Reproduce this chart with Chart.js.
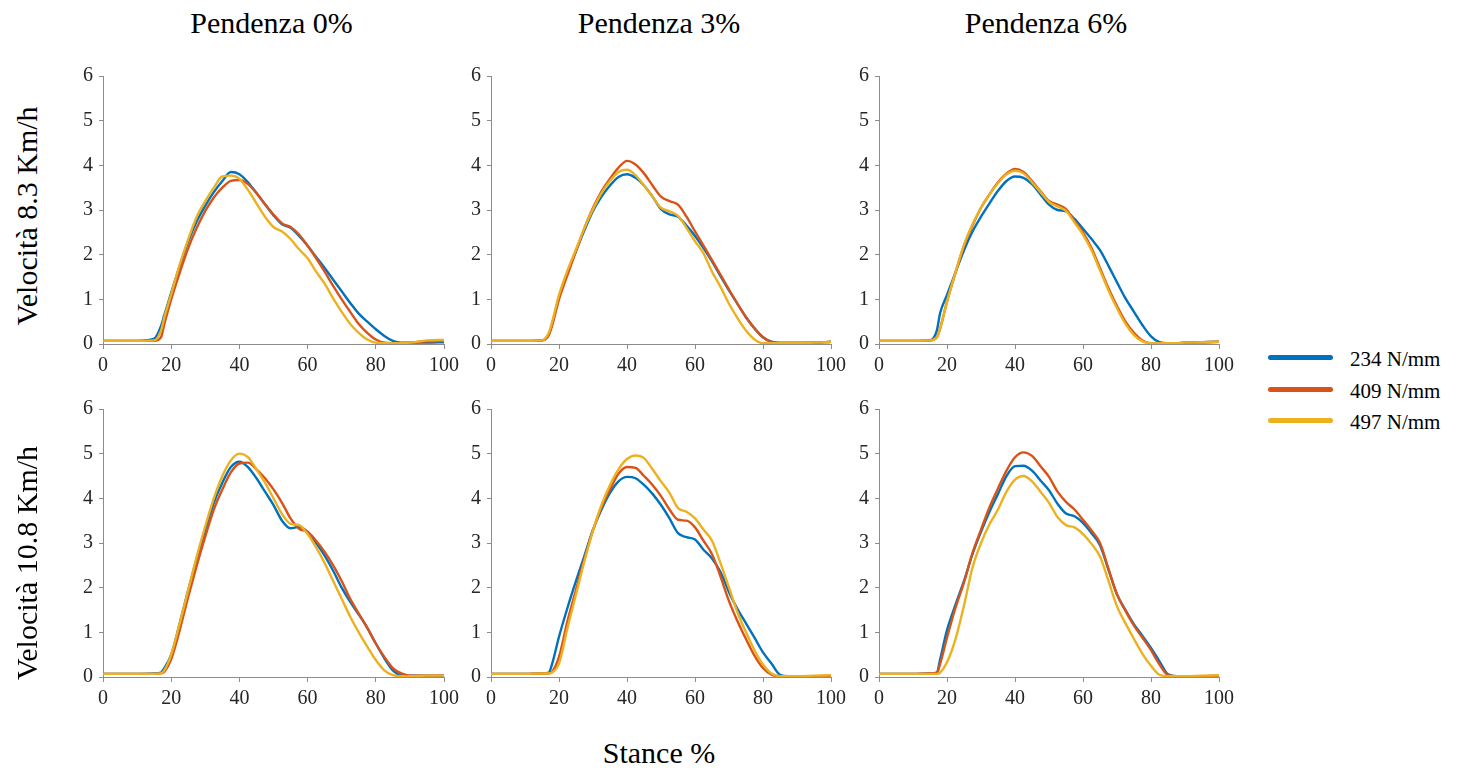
<!DOCTYPE html>
<html><head><meta charset="utf-8">
<script src="https://cdn.jsdelivr.net/npm/chart.js@4/dist/chart.umd.min.js"></script>
<style>
html,body{margin:0;padding:0;background:#fff;}
body{width:1462px;height:773px;position:relative;overflow:hidden;font-family:"Liberation Serif","Times New Roman",serif;color:#000;}
.cv{position:absolute;}
.title{position:absolute;font-size:30px;line-height:30px;white-space:nowrap;transform:translateX(-50%);}
.rowlab{position:absolute;font-size:30px;line-height:30px;white-space:nowrap;transform:translate(-50%,-50%) rotate(-90deg);}
.leg{position:absolute;font-size:21px;line-height:24px;white-space:nowrap;}
.legline{position:absolute;height:5px;border-radius:3px;}
</style>
</head><body>
<script>
// ---- data ----
const stance = [0,10,15,17,18,20,22.5,25,27.5,30,32.5,35,37.5,40,42.5,45,47.5,50,52.5,55,57.5,60,62.5,65,67.5,70,72.5,75,77.5,80,82.5,85,87.5,90,95,100];

const xTickValues = [0,20,40,60,80,100];
const yTickValues = [0,1,2,3,4,5,6];
const seriesNames = ["234 N/mm","409 N/mm","497 N/mm"];
const seriesColors = ["#0072BD","#D95319","#EDB120"];
const slopeTitles = ["Pendenza 0%","Pendenza 3%","Pendenza 6%"];
const speedLabels = ["Velocità 8.3 Km/h","Velocità 10.8 Km/h"];
const xAxisTitle = "Stance %";

// Velocità 8.3, Pendenza 0%
const v83_p0_234 = [0.07,0.07,0.12,0.4,0.65,1.15,1.75,2.3,2.75,3.1,3.4,3.65,3.85,3.8,3.62,3.38,3.13,2.88,2.68,2.6,2.42,2.2,1.95,1.7,1.44,1.18,0.92,0.68,0.5,0.33,0.18,0.07,0.03,0.03,0.03,0.04];
const v83_p0_409 = [0.07,0.07,0.07,0.15,0.45,1.0,1.6,2.15,2.6,2.98,3.28,3.5,3.65,3.67,3.58,3.38,3.13,2.9,2.7,2.62,2.45,2.2,1.92,1.62,1.3,1.0,0.72,0.45,0.25,0.1,0.03,0.02,0.02,0.03,0.06,0.07];
const v83_p0_497 = [0.07,0.07,0.08,0.3,0.6,1.12,1.78,2.35,2.85,3.2,3.5,3.75,3.77,3.7,3.45,3.15,2.85,2.62,2.52,2.35,2.12,1.92,1.62,1.35,1.02,0.72,0.45,0.25,0.1,0.03,0.02,0.02,0.02,0.03,0.08,0.09];
// Velocità 10.8, Pendenza 0%
const v108_p0_234 = [0.07,0.07,0.08,0.1,0.2,0.5,1.2,1.95,2.65,3.3,3.9,4.35,4.7,4.82,4.7,4.45,4.15,3.85,3.5,3.33,3.36,3.25,3.0,2.72,2.38,2.0,1.68,1.4,1.1,0.75,0.42,0.15,0.04,0.03,0.03,0.03];
const v108_p0_409 = [0.07,0.07,0.07,0.08,0.12,0.4,1.05,1.8,2.5,3.15,3.75,4.2,4.58,4.78,4.8,4.65,4.45,4.2,3.9,3.55,3.32,3.25,3.05,2.8,2.5,2.15,1.75,1.42,1.1,0.75,0.45,0.2,0.08,0.03,0.03,0.03];
const v108_p0_497 = [0.07,0.07,0.07,0.08,0.15,0.5,1.2,1.95,2.7,3.38,4.0,4.5,4.85,5.0,4.92,4.65,4.35,4.0,3.65,3.43,3.4,3.2,2.9,2.55,2.15,1.75,1.35,1.0,0.68,0.38,0.15,0.04,0.02,0.02,0.03,0.03];
// Velocità 8.3, Pendenza 3%
const v83_p3_234 = [0.07,0.07,0.08,0.22,0.45,1.05,1.6,2.08,2.55,2.98,3.3,3.55,3.74,3.8,3.72,3.55,3.3,3.02,2.9,2.85,2.65,2.42,2.15,1.85,1.52,1.2,0.9,0.6,0.35,0.15,0.05,0.03,0.03,0.03,0.03,0.05];
const v83_p3_409 = [0.07,0.07,0.08,0.2,0.42,1.0,1.55,2.08,2.6,3.05,3.42,3.7,3.95,4.1,4.02,3.82,3.55,3.3,3.2,3.12,2.85,2.52,2.2,1.88,1.55,1.22,0.9,0.6,0.35,0.15,0.04,0.02,0.02,0.02,0.03,0.05];
const v83_p3_497 = [0.07,0.07,0.08,0.25,0.5,1.1,1.65,2.12,2.6,3.02,3.38,3.65,3.85,3.9,3.78,3.55,3.3,3.05,2.97,2.87,2.6,2.3,2.03,1.62,1.28,0.9,0.58,0.3,0.1,0.02,0.02,0.02,0.02,0.02,0.03,0.05];
// Velocità 10.8, Pendenza 3%
const v108_p3_234 = [0.07,0.07,0.08,0.1,0.3,0.9,1.55,2.15,2.72,3.3,3.75,4.12,4.38,4.48,4.45,4.3,4.1,3.85,3.55,3.22,3.13,3.08,2.85,2.65,2.35,1.9,1.52,1.2,0.88,0.55,0.3,0.05,0.02,0.02,0.02,0.03];
const v108_p3_409 = [0.07,0.07,0.08,0.08,0.12,0.45,1.25,1.95,2.65,3.28,3.8,4.2,4.55,4.7,4.68,4.5,4.3,4.05,3.75,3.52,3.5,3.35,3.05,2.75,2.25,1.7,1.25,0.85,0.48,0.2,0.05,0.02,0.02,0.02,0.02,0.03];
const v108_p3_497 = [0.07,0.07,0.08,0.08,0.1,0.3,1.1,1.85,2.6,3.28,3.85,4.3,4.65,4.88,4.96,4.9,4.65,4.38,4.12,3.78,3.7,3.55,3.3,3.05,2.55,2.0,1.45,1.0,0.6,0.28,0.08,0.02,0.02,0.02,0.03,0.04];
// Velocità 8.3, Pendenza 6%
const v83_p6_234 = [0.07,0.07,0.08,0.3,0.7,1.1,1.6,2.1,2.52,2.85,3.15,3.43,3.65,3.75,3.72,3.58,3.35,3.12,3.0,2.97,2.8,2.58,2.35,2.1,1.75,1.38,1.02,0.72,0.42,0.17,0.04,0.02,0.02,0.03,0.04,0.05];
const v83_p6_409 = [0.07,0.07,0.08,0.15,0.35,0.95,1.6,2.2,2.65,3.05,3.35,3.62,3.82,3.92,3.85,3.65,3.42,3.2,3.12,3.02,2.75,2.5,2.15,1.7,1.25,0.85,0.5,0.25,0.08,0.02,0.02,0.02,0.02,0.03,0.04,0.05];
const v83_p6_497 = [0.07,0.07,0.08,0.15,0.35,0.95,1.6,2.22,2.68,3.05,3.35,3.6,3.8,3.88,3.82,3.62,3.4,3.18,3.08,2.98,2.72,2.45,2.1,1.65,1.2,0.8,0.45,0.2,0.06,0.02,0.02,0.02,0.02,0.03,0.04,0.05];
// Velocità 10.8, Pendenza 6%
const v108_p6_234 = [0.07,0.07,0.08,0.1,0.4,1.05,1.62,2.15,2.75,3.25,3.7,4.1,4.5,4.72,4.73,4.62,4.4,4.18,3.88,3.66,3.6,3.45,3.22,2.95,2.4,1.85,1.5,1.18,0.92,0.65,0.35,0.06,0.02,0.02,0.02,0.03];
const v108_p6_409 = [0.07,0.07,0.08,0.09,0.3,0.88,1.55,2.12,2.78,3.3,3.8,4.22,4.62,4.92,5.03,4.95,4.72,4.48,4.15,3.92,3.75,3.52,3.28,3.0,2.42,1.85,1.48,1.15,0.88,0.6,0.28,0.04,0.02,0.02,0.02,0.03];
const v108_p6_497 = [0.07,0.07,0.07,0.07,0.1,0.33,0.85,1.6,2.45,3.0,3.42,3.75,4.15,4.42,4.5,4.38,4.15,3.9,3.58,3.4,3.35,3.2,2.98,2.7,2.15,1.58,1.2,0.85,0.52,0.25,0.05,0.02,0.02,0.02,0.03,0.04];

const panelSeries = [
  [[v83_p0_234,v83_p0_409,v83_p0_497],[v83_p3_234,v83_p3_409,v83_p3_497],[v83_p6_234,v83_p6_409,v83_p6_497]],
  [[v108_p0_234,v108_p0_409,v108_p0_497],[v108_p3_234,v108_p3_409,v108_p3_497],[v108_p6_234,v108_p6_409,v108_p6_497]]
];

// ---- layout ----
const plotLeft = [103, 491, 879];
const plotWidth = [341, 340, 340];
const plotTop = [76, 409];
const plotHeight = 268;
const padL = 45, padT = 28, padR = 28, padB = 40;

const FONT = "'Liberation Serif','Times New Roman',serif";
const axisColor = "#8c8c8c";
const tickColor = "#262626";

function addDiv(cls, text, styles){
  const d = document.createElement('div');
  d.className = cls; d.textContent = text;
  Object.assign(d.style, styles);
  document.body.appendChild(d);
  return d;
}

for (let r = 0; r < 2; r++) {
  for (let c = 0; c < 3; c++) {
    const cv = document.createElement('canvas');
    cv.className = 'cv';
    const W = plotWidth[c] + padL + padR, H = plotHeight + padT + padB;
    cv.width = W; cv.height = H;
    cv.style.width = W + 'px'; cv.style.height = H + 'px';
    cv.style.left = (plotLeft[c] - padL) + 'px';
    cv.style.top = (plotTop[r] - padT) + 'px';
    document.body.appendChild(cv);
    const datasets = panelSeries[r][c].map((vals, i) => ({
      label: seriesNames[i],
      data: stance.map((x, k) => ({x: x, y: vals[k]})),
      borderColor: seriesColors[i],
      backgroundColor: seriesColors[i],
      borderWidth: 2.4,
      pointRadius: 0,
      cubicInterpolationMode: 'monotone',
      fill: false,
      order: 2 - i
    }));
    const ch = new Chart(cv, {
      type: 'line',
      data: { datasets },
      options: {
        responsive: false, animation: false, devicePixelRatio: 1,
        layout: { padding: { left: 0, top: padT, right: padR, bottom: 0 } },
        plugins: { legend: { display: false }, tooltip: { enabled: false } },
        scales: {
          x: {
            type: 'linear', min: 0, max: 100,
            afterBuildTicks: s => { s.ticks = xTickValues.map(v => ({value: v})); },
            afterFit: s => { s.height = padB; },
            border: { display: true, color: axisColor, width: 1 },
            grid: { display: true, drawOnChartArea: false, drawTicks: true, tickLength: 5, color: axisColor },
            ticks: { color: tickColor, font: { family: FONT, size: 20 }, padding: 5, maxRotation: 0 }
          },
          y: {
            type: 'linear', min: 0, max: 6,
            afterBuildTicks: s => { s.ticks = yTickValues.map(v => ({value: v})); },
            afterFit: s => { s.width = padL; },
            border: { display: true, color: axisColor, width: 1 },
            grid: { display: true, drawOnChartArea: false, drawTicks: true, tickLength: 4, color: axisColor },
            ticks: { color: tickColor, font: { family: FONT, size: 20 }, padding: 6 }
          }
        }
      }
    });
    // align the plot area exactly to the target rectangle
    const ca = ch.chartArea;
    cv.style.left = (plotLeft[c] - ca.left) + 'px';
    cv.style.top = (plotTop[r] - ca.top) + 'px';
  }
}

// titles
const titleCenters = [271.5, 659, 1046];
slopeTitles.forEach((t, c) => addDiv('title', t, { left: titleCenters[c] + 'px', top: '8px' }));
// row labels
const rowCenters = [216, 563];
speedLabels.forEach((t, r) => addDiv('rowlab', t, { left: '27px', top: rowCenters[r] + 'px' }));
// x axis title
addDiv('title', xAxisTitle, { left: '659px', top: '738px' });
// legend
const legY = [357, 389, 420];
seriesNames.forEach((n, i) => {
  addDiv('legline', '', { left: '1268px', top: (legY[i] - 2.5) + 'px', width: '65px', background: seriesColors[i] });
  addDiv('leg', n, { left: '1350px', top: (legY[i] - 10) + 'px' });
});
</script>
</body></html>
